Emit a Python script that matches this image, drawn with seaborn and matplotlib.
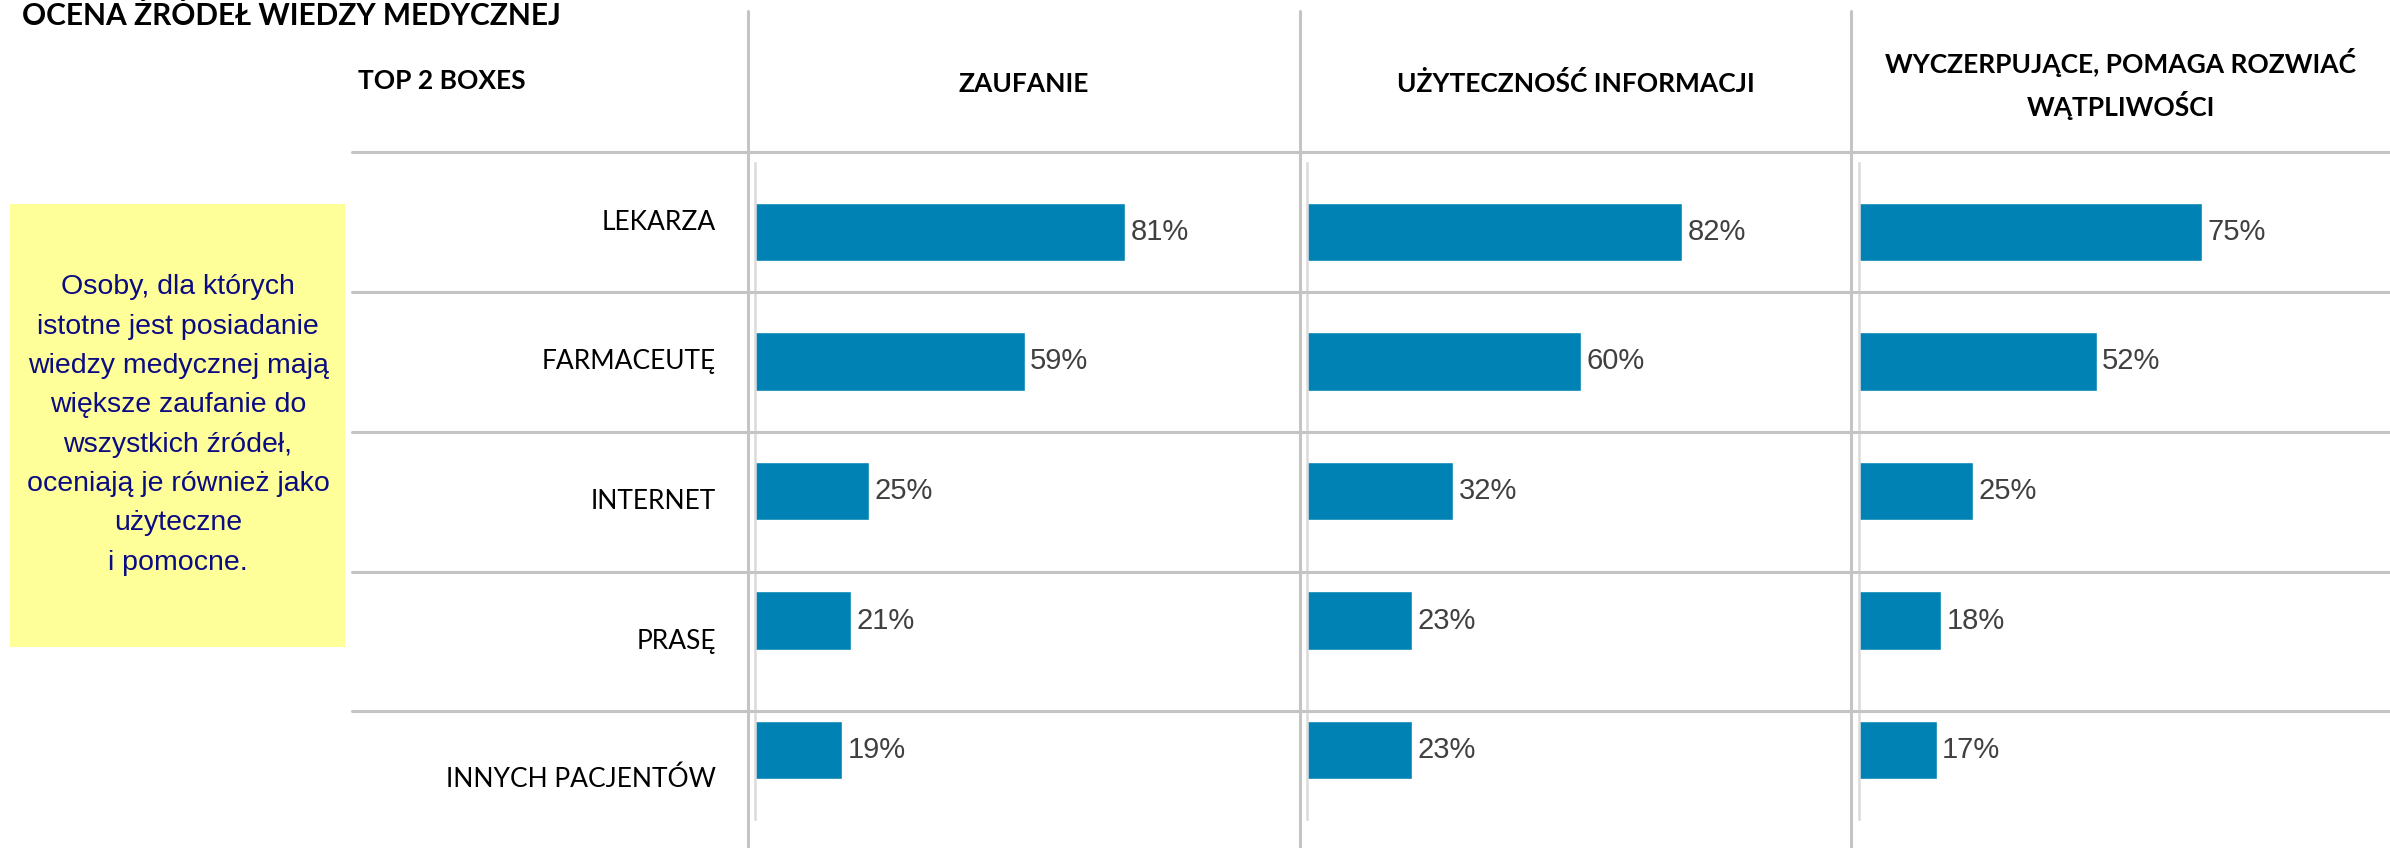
import matplotlib
matplotlib.use("Agg")
import matplotlib.pyplot as plt
from matplotlib.lines import Line2D
from matplotlib.patches import Rectangle
import seaborn as sns
import pandas as pd

# ---------------- data ----------------
title = "OCENA ŹRÓDEŁ WIEDZY MEDYCZNEJ"
corner_label = "TOP 2 BOXES"
sources = ["LEKARZA", "FARMACEUTĘ", "INTERNET", "PRASĘ", "INNYCH PACJENTÓW"]
metrics = ["ZAUFANIE", "UŻYTECZNOŚĆ INFORMACJI",
           "WYCZERPUJĄCE, POMAGA ROZWIAĆ\nWĄTPLIWOŚCI"]
zaufanie = [81, 59, 25, 21, 19]
uzytecznosc = [82, 60, 32, 23, 23]
wyczerpujace = [75, 52, 25, 18, 17]
note = ("Osoby, dla których\nistotne jest posiadanie\nwiedzy medycznej mają\n"
        "większe zaufanie do\nwszystkich źródeł,\noceniają je również jako\n"
        "użyteczne\ni pomocne.")

df = pd.DataFrame({
    "source": sources * 3,
    "metric": [metrics[0]] * 5 + [metrics[1]] * 5 + [metrics[2]] * 5,
    "value": zaufanie + uzytecznosc + wyczerpujace,
})

# ---------------- layout ----------------
sns.set_theme(style="white")
plt.rcParams["font.family"] = ["Lato", "DejaVu Sans"]

W, H = 2390, 848
fig = plt.figure(figsize=(W / 100, H / 100), dpi=100)


def fx(x):
    return x / W


def fy(y):
    return 1 - y / H


BAR = "#0083B4"
GRID = "#C4C4C4"
SPINE = "#DADADA"

# table separators
row_bounds = [152, 292, 432, 572, 711, 848]
for y in row_bounds[:-1]:
    fig.add_artist(Line2D([fx(352), 1], [fy(y), fy(y)], color=GRID, lw=2.2,
                          transform=fig.transFigure))
col_seps = [748, 1300, 1851]
for x in col_seps:
    fig.add_artist(Line2D([fx(x), fx(x)], [fy(11), 0], color=GRID, lw=2.2,
                          transform=fig.transFigure))

# title at the very top edge
fig.text(fx(22), fy(1), title, fontsize=21.5, fontweight="bold", color="black",
         ha="left", va="top", family=["Lato", "DejaVu Sans"])

# headers
fig.text(fx(358), fy(81), corner_label, fontsize=19, fontweight="bold",
         ha="left", va="center", color="black")
col_edges = col_seps + [W]
for i, m in enumerate(metrics):
    cx = (col_edges[i] + col_edges[i + 1]) / 2
    fig.text(fx(cx), fy(84), m, fontsize=19, fontweight="bold", ha="center",
             va="center", multialignment="center", linespacing=1.55,
             color="black")

# row labels, centred in table rows
for i, s in enumerate(sources):
    cy = (row_bounds[i] + row_bounds[i + 1]) / 2
    fig.text(fx(716), fy(cy), s, fontsize=19, ha="right", va="center",
             color="black")

# yellow note box
fig.add_artist(Rectangle((fx(10), fy(647)), fx(345) - fx(10), (647 - 204) / H,
                         facecolor="#FFFF99", edgecolor="none",
                         transform=fig.transFigure, zorder=0))
fig.text(fx(178), fy(425), note, fontsize=20.5, ha="center", va="center",
         multialignment="center", linespacing=1.67, color="#0B0B82",
         family=["Liberation Sans", "DejaVu Sans"])

# bar panels
ax_lefts = [755, 1307, 1859]
for i, m in enumerate(metrics):
    ax = fig.add_axes([fx(ax_lefts[i]), fy(819), 457 / W, (819 - 163) / H])
    sub = df[df["metric"] == m]
    sns.barplot(data=sub, y="source", x="value", orient="h", color=BAR,
                saturation=1, width=0.45, ax=ax, order=sources)
    ax.set_xlim(0, 100)
    ax.set_ylim(4.53, -0.53)
    for c in ax.containers:
        ax.bar_label(c, labels=[f"{v}%" for v in sub["value"]], padding=4,
                     fontsize=21, color="#404040",
                     family=["Liberation Sans", "DejaVu Sans"])
    ax.set_xlabel("")
    ax.set_ylabel("")
    ax.set_xticks([])
    ax.set_yticks([])
    for side in ["top", "right", "bottom"]:
        ax.spines[side].set_visible(False)
    ax.spines["left"].set_color(SPINE)
    ax.spines["left"].set_linewidth(1.8)
    ax.patch.set_alpha(0)

fig.savefig("out.png", dpi=100)
